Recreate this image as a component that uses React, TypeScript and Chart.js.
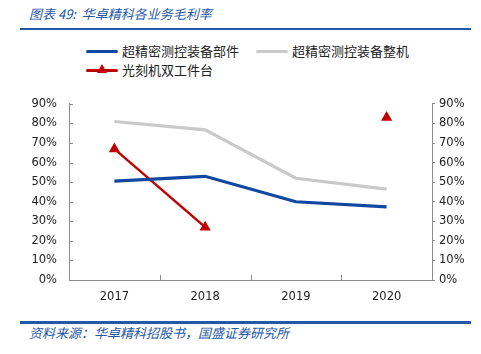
import React, { useEffect, useRef } from "react";
import { Chart, registerables } from "chart.js";

Chart.register(...registerables);

const categories = ["2017", "2018", "2019", "2020"];
const seriesNames = ["超精密测控装备部件", "超精密测控装备整机", "光刻机双工件台"];
const partsMargin = [50.5, 53, 40, 37.4];
const machineMargin = [81, 76.7, 52, 46.4];
const stageMargin: (number | null)[] = [67, 27, null, 83];
const yTicks = [0, 10, 20, 30, 40, 50, 60, 70, 80, 90];

const BLUE = "#0F47A1";
const GRAY = "#C9C9C9";
const RED = "#C00000";
const AXIS = "#8C8C8C";
const TITLE_BLUE = "#2458A6";

const innerTicks = {
  id: "innerTicks",
  afterDatasetsDraw(chart: any) {
    const ctx = chart.ctx;
    const x = chart.scales.x;
    const y = chart.scales.y;
    const area = chart.chartArea;
    ctx.save();
    ctx.strokeStyle = AXIS;
    ctx.lineWidth = 1;
    ctx.beginPath();
    yTicks.forEach((v) => {
      const py = Math.round(y.getPixelForValue(v)) + 0.5;
      ctx.moveTo(area.left, py);
      ctx.lineTo(area.left + 4, py);
    });
    for (let i = 1; i < categories.length; i++) {
      const px = Math.round((x.getPixelForTick(i - 1) + x.getPixelForTick(i)) / 2) + 0.5;
      ctx.moveTo(px, area.bottom);
      ctx.lineTo(px, area.bottom - 5);
    }
    ctx.stroke();
    ctx.restore();
  },
};

export default function App() {
  const ref = useRef<HTMLCanvasElement | null>(null);
  useEffect(() => {
    if (!ref.current) return;
    const tickFont = { family: "'DejaVu Sans', Tahoma, sans-serif", size: 11.5 };
    const chart = new Chart(ref.current, {
      type: "line",
      data: {
        labels: categories,
        datasets: [
          {
            label: seriesNames[0],
            data: partsMargin,
            borderColor: BLUE,
            backgroundColor: BLUE,
            borderWidth: 3.2,
            pointRadius: 0,
            tension: 0,
          },
          {
            label: seriesNames[1],
            data: machineMargin,
            borderColor: GRAY,
            backgroundColor: GRAY,
            borderWidth: 3.2,
            pointRadius: 0,
            tension: 0,
          },
          {
            label: seriesNames[2],
            data: stageMargin,
            borderColor: RED,
            backgroundColor: RED,
            borderWidth: 2.5,
            pointStyle: "triangle",
            pointRadius: 6.5,
            pointBorderWidth: 0,
            spanGaps: false,
            tension: 0,
          },
        ],
      },
      options: {
        animation: false,
        responsive: false,
        maintainAspectRatio: false,
        layout: { padding: { top: 0, left: 0, right: 0, bottom: 0 } },
        plugins: { legend: { display: false }, tooltip: { enabled: false } },
        scales: {
          x: {
            offset: true,
            grid: { display: false, drawTicks: false },
            border: { color: AXIS, width: 1 },
            ticks: { color: "#222", font: tickFont, padding: 10 },
            afterFit(s: any) {
              s.height = 30;
            },
          },
          y: {
            position: "left",
            min: 0,
            max: 90,
            grid: { display: false, drawTicks: false },
            border: { color: AXIS, width: 1 },
            ticks: {
              stepSize: 10,
              color: "#222",
              font: tickFont,
              padding: 12,
              callback: (v: any) => `${v}%`,
            },
            afterFit(s: any) {
              s.width = 69;
            },
          },
          y1: {
            position: "right",
            min: 0,
            max: 90,
            grid: { display: true, drawOnChartArea: false, drawTicks: true, tickLength: 3, color: AXIS },
            border: { color: AXIS, width: 1 },
            ticks: {
              stepSize: 10,
              color: "#222",
              font: tickFont,
              padding: 4,
              callback: (v: any) => `${v}%`,
            },
            afterFit(s: any) {
              s.width = 49;
            },
          },
        },
      },
      plugins: [innerTicks],
    } as any);
    return () => chart.destroy();
  }, []);

  const cjk = "'Noto Sans CJK SC', 'DejaVu Sans', sans-serif";
  const legendText: React.CSSProperties = {
    position: "absolute",
    fontFamily: cjk,
    fontSize: 13,
    color: "#222",
    lineHeight: "16px",
    whiteSpace: "nowrap",
  };
  const lineSample = (left: number, top: number, color: string, h: number): React.CSSProperties => ({
    position: "absolute",
    left,
    top,
    width: 32,
    height: h,
    background: color,
    borderRadius: 2,
  });

  return (
    <div style={{ position: "absolute", left: 0, top: 0, width: 481, height: 354, background: "#fff", overflow: "hidden" }}>
      <div
        style={{
          position: "absolute",
          left: 29,
          top: 5,
          fontFamily: cjk,
          fontStyle: "italic",
          fontSize: 13,
          color: TITLE_BLUE,
          whiteSpace: "nowrap",
          lineHeight: "18px",
        }}
      >
        图表 49:&nbsp;&nbsp;华卓精科各业务毛利率
      </div>
      <div style={{ position: "absolute", left: 20, top: 28, width: 451, height: 2, background: TITLE_BLUE }} />

      <div style={lineSample(86, 50, BLUE, 3)} />
      <div style={{ ...legendText, left: 122, top: 43 }}>{seriesNames[0]}</div>
      <div style={lineSample(256, 50, GRAY, 3)} />
      <div style={{ ...legendText, left: 292, top: 43 }}>{seriesNames[1]}</div>
      <div style={lineSample(86, 69, RED, 2.5)} />
      <div
        style={{
          position: "absolute",
          left: 97,
          top: 64,
          width: 0,
          height: 0,
          borderLeft: "5px solid transparent",
          borderRight: "5px solid transparent",
          borderBottom: "9px solid " + RED,
        }}
      />
      <div style={{ ...legendText, left: 122, top: 62 }}>{seriesNames[2]}</div>

      <canvas ref={ref} width={481} height={225} style={{ position: "absolute", left: 0, top: 85, width: 481, height: 225 }} />

      <div style={{ position: "absolute", left: 20, top: 321, width: 451, height: 2.5, background: TITLE_BLUE }} />
      <div
        style={{
          position: "absolute",
          left: 29,
          top: 324,
          fontFamily: cjk,
          fontStyle: "italic",
          fontSize: 13,
          color: TITLE_BLUE,
          whiteSpace: "nowrap",
          lineHeight: "18px",
        }}
      >
        资料来源：华卓精科招股书，国盛证券研究所
      </div>
    </div>
  );
}
